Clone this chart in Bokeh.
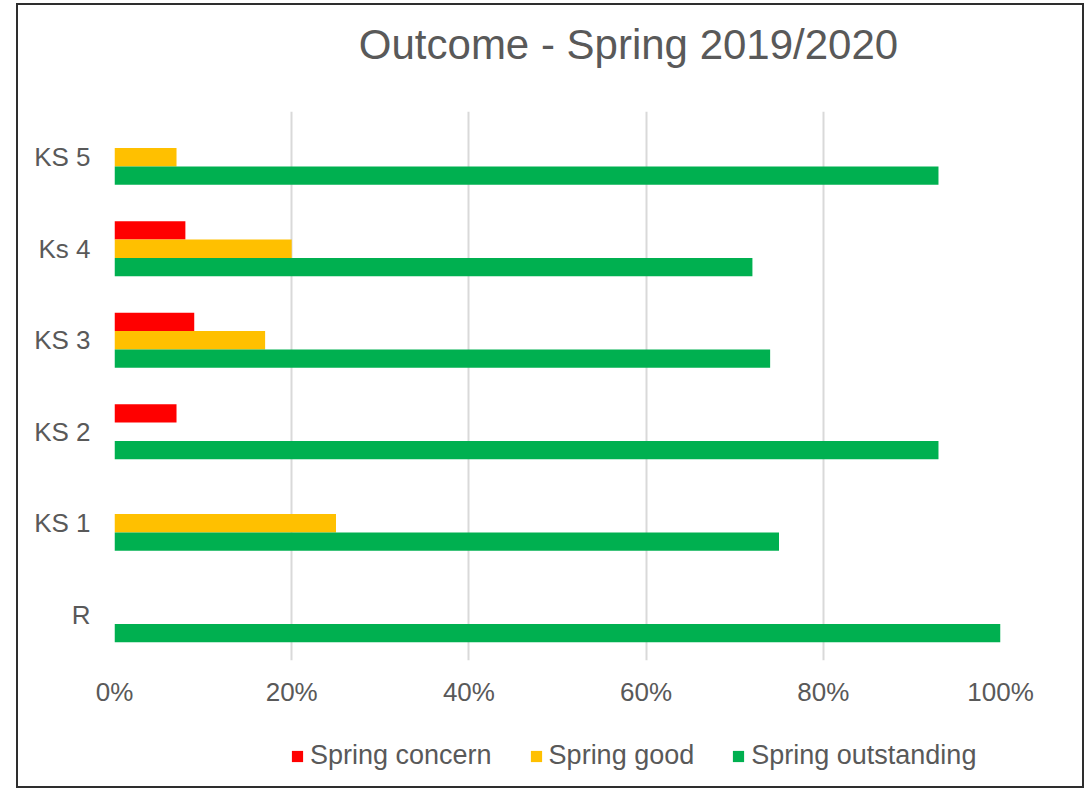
from bokeh.plotting import figure
from bokeh.models import (ColumnDataSource, Range1d, FixedTicker, NumeralTickFormatter,
                          Legend, LegendItem, Label)
from bokeh.layouts import column
from bokeh.transform import dodge
from bokeh.embed import file_html
from bokeh.resources import INLINE

categories = ["R", "KS 1", "KS 2", "KS 3", "Ks 4", "KS 5"]
concern = [0.0, 0.0, 0.07, 0.09, 0.08, 0.0]
good = [0.0, 0.25, 0.0, 0.17, 0.20, 0.07]
outstanding = [1.00, 0.75, 0.93, 0.74, 0.72, 0.93]
series_names = ["Spring concern", "Spring good", "Spring outstanding"]
series_colors = ["#FF0000", "#FFC000", "#00B050"]
x_ticks = [0, 0.2, 0.4, 0.6, 0.8, 1.0]
title_text = "Outcome - Spring 2019/2020"

FONT = "Liberation Sans"
GREY = "#595959"
W = 1064

src = ColumnDataSource(dict(cat=categories, concern=concern, good=good, outstanding=outstanding))
cols = ["concern", "good", "outstanding"]


def strip(height):
    f = figure(width=W, height=height, x_range=Range1d(0, 1), y_range=Range1d(0, 1),
               output_backend="svg", toolbar_location=None,
               x_axis_location=None, y_axis_location=None, min_border=0)
    f.outline_line_color = None
    f.xgrid.grid_line_color = None
    f.ygrid.grid_line_color = None
    return f


# title strip
tf = strip(85)
tf.add_layout(Label(x=514, y=46, x_units="screen", y_units="screen", text=title_text,
                    text_align="center", text_baseline="alphabetic",
                    text_font=FONT, text_font_size="42px", text_color=GREY))

# main chart
p = figure(width=W, height=640, y_range=categories, x_range=Range1d(0, 1),
           output_backend="svg", toolbar_location=None,
           min_border_left=96, min_border_right=82, min_border_top=21, min_border_bottom=70)
p.outline_line_color = None

offsets = [0.2, 0.0, -0.2]
for c, off, col in zip(cols, offsets, series_colors):
    p.hbar(y=dodge("cat", off, range=p.y_range), right=c, left=0, height=0.2,
           source=src, color=col, line_color=None)

p.xaxis.ticker = FixedTicker(ticks=x_ticks)
p.xaxis.formatter = NumeralTickFormatter(format="0%")
for ax in (p.xaxis, p.yaxis):
    ax.axis_line_color = None
    ax.major_tick_line_color = None
    ax.minor_tick_line_color = None
    ax.major_tick_out = 0
    ax.major_tick_in = 0
    ax.minor_tick_out = 0
    ax.major_label_text_font = FONT
    ax.major_label_text_font_size = "26px"
    ax.major_label_text_color = GREY
p.xaxis.major_label_standoff = 16
p.yaxis.major_label_standoff = 24

p.xgrid.grid_line_color = "#d9d9d9"
p.xgrid.grid_line_width = 2
p.ygrid.grid_line_color = None

# legend strip below the chart
lf = strip(56)
items = []
for name, c, col in zip(series_names, cols, series_colors):
    r = lf.hbar(y=0.5, right=c, left=0, height=0, source=src, color=col, line_color=None)
    items.append(LegendItem(label=name, renderers=[r]))
legend = Legend(items=items, orientation="horizontal", location=(176, 15),
                label_text_font=FONT, label_text_font_size="27px", label_text_color=GREY,
                glyph_width=14, glyph_height=14, label_standoff=6, spacing=37,
                label_height=30, padding=0, margin=0,
                border_line_color=None, background_fill_alpha=0)
lf.add_layout(legend, "center")

layout = column(tf, p, lf, spacing=0)
layout.styles = {"margin-left": "18px", "margin-top": "5px",
                 "outline": "2px solid #2e2e2e", "outline-offset": "0px"}
open("out.html", "w").write(file_html(layout, INLINE))
